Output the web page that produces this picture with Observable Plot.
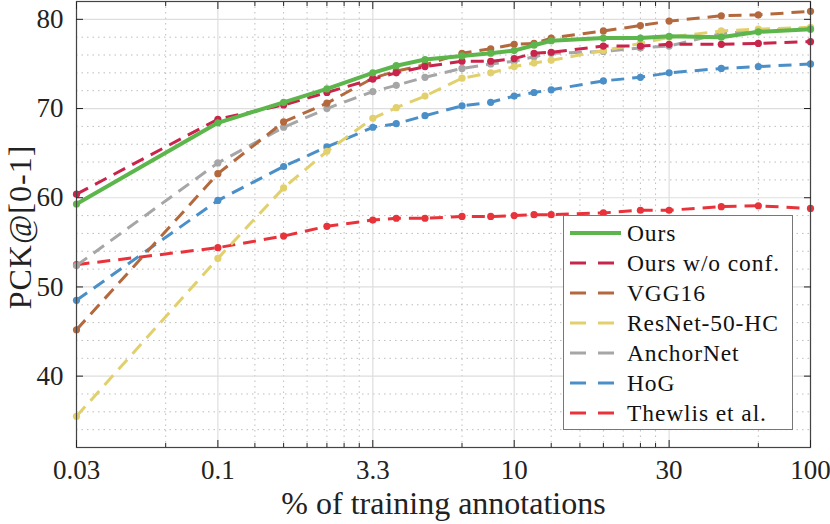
<!DOCTYPE html>
<html>
<head>
<meta charset="utf-8">
<script src="https://cdn.jsdelivr.net/npm/d3@7"></script>
<script src="https://cdn.jsdelivr.net/npm/@observablehq/plot@0.6"></script>
<style>
  html, body { margin: 0; padding: 0; background: #fff; }
  #wrap { position: relative; width: 830px; height: 524px; font-family: "Liberation Serif", serif; }
  #legend { position: absolute; left: 563px; top: 215px; width: 228px; height: 213px; background: #fff; border: 1px solid #777; box-sizing: content-box; }
  .row { position: absolute; left: 0; height: 30px; display: flex; align-items: center; font-size: 23.5px; letter-spacing: 0.9px; color: #111; white-space: nowrap; }
  .row svg { margin-left: 6px; margin-right: 6px; }
  #ylabel { position: absolute; left: 20px; top: 227px; transform: translate(-50%, -50%) rotate(-90deg); font-size: 32px; color: #222; white-space: nowrap; letter-spacing: 1px; }
</style>
</head>
<body>
<div id="wrap"><div id="ylabel"></div><div id="legend"></div></div>
<script>
// x positions (annotation fraction units of the log axis)
const annotX = [0.1, 0.3, 0.5, 0.7, 1, 1.2, 1.5, 2, 2.5, 3, 3.5, 4, 6, 8, 10, 15, 20, 30];
const xTickVals = [0.1, 0.3, 1, 3, 10, 30];
const xTickLabels = ["0.03", "0.1", "3.3", "10", "30", "100"];
const yTickVals = [40, 50, 60, 70, 80];
const xTitle = "% of training annotations";
const yTitle = "PCK@[0-1]";

const seriesNames = ["Ours", "Ours w/o conf.", "VGG16", "ResNet-50-HC", "AnchorNet", "HoG", "Thewlis et al."];
const ours       = [59.3, 68.4, 70.7, 72.2, 74.0, 74.8, 75.5, 75.9, 76.2, 76.5, 77.1, 77.6, 77.9, 77.9, 78.1, 78.0, 78.6, 78.9];
const oursNoConf = [60.4, 68.8, 70.4, 71.8, 73.3, 74.0, 74.7, 75.3, 75.3, 75.6, 76.2, 76.3, 77.0, 77.0, 77.2, 77.2, 77.3, 77.5];
const vgg16      = [45.2, 62.7, 68.5, 70.6, 73.4, 74.2, 74.9, 76.2, 76.7, 77.2, 77.3, 77.9, 78.7, 79.3, 79.8, 80.4, 80.5, 80.9];
const resnet50hc = [35.5, 53.2, 61.1, 65.2, 68.9, 70.1, 71.4, 73.4, 74.0, 74.7, 75.1, 75.4, 76.5, 77.3, 78.0, 78.7, 78.9, 79.1];
const anchorNet  = [52.4, 63.9, 67.9, 70.0, 71.9, 72.6, 73.5, 74.5, 75.0, 75.3, 75.8, 76.2, 76.4, 76.8, 77.0, 78.4, 78.7, 79.0];
const hog        = [48.5, 59.7, 63.5, 65.7, 67.9, 68.3, 69.2, 70.3, 70.7, 71.4, 71.8, 72.1, 73.1, 73.5, 74.0, 74.5, 74.7, 75.0];
const thewlis    = [52.5, 54.4, 55.7, 56.8, 57.5, 57.7, 57.7, 57.9, 57.9, 58.0, 58.1, 58.1, 58.3, 58.6, 58.6, 59.0, 59.1, 58.8];

const seriesValues = [ours, oursNoConf, vgg16, resnet50hc, anchorNet, hog, thewlis];
const colors = ["#5cb64c", "#c8244c", "#b3693d", "#e2d06c", "#a6a6a6", "#4a8fc8", "#e8333a"];

const FONT = "Liberation Serif";
const data = seriesNames.flatMap((name, si) => annotX.map((x, i) => ({series: name, x, y: seriesValues[si][i]})));

const allLogTicks = d3.scaleLog().domain([0.1, 30]).ticks();
const xMinor = allLogTicks.filter(t => !xTickVals.some(m => Math.abs(m - t) < 1e-9));
const yMinor = d3.range(34, 82, 2).filter(v => v % 10 !== 0);

const drawOrder = [6, 5, 4, 3, 2, 1, 0];
const seriesMarks = drawOrder.flatMap(si => {
  const d = data.filter(r => r.series === seriesNames[si]);
  const solid = si === 0;
  return [
    Plot.line(d, {x: "x", y: "y", stroke: colors[si], strokeWidth: solid ? 4 : 3,
      strokeDasharray: solid ? null : "13,8", strokeLinecap: "butt", strokeLinejoin: "round"}),
    Plot.dot(d, {x: "x", y: "y", r: 3.6, fill: colors[si], stroke: "none"})
  ];
});

const tickOpts = {tickFormat: () => "", stroke: "#222", label: null};
const chart = Plot.plot({
  width: 830, height: 524,
  marginLeft: 76, marginRight: 20, marginTop: 1, marginBottom: 77,
  x: {type: "log", domain: [0.1, 30], axis: null},
  y: {domain: [32, 82], axis: null},
  style: {background: "white", fontFamily: FONT, overflow: "visible"},
  marks: [
    Plot.ruleY(yMinor, {stroke: "#bdbdbd", strokeDasharray: "1.5,4"}),
    Plot.ruleX(xMinor, {stroke: "#bdbdbd", strokeDasharray: "1.5,4"}),
    Plot.ruleY(yTickVals, {stroke: "#dedede", strokeWidth: 1.2}),
    Plot.ruleX(xTickVals, {stroke: "#dedede", strokeWidth: 1.2}),
    ...seriesMarks,
    Plot.frame({stroke: "#444", strokeWidth: 1.2}),
    Plot.axisX(xTickVals, {anchor: "bottom", tickSize: 7, dy: -7, ...tickOpts}),
    Plot.axisX(xTickVals, {anchor: "top", tickSize: 7, dy: 7, ...tickOpts}),
    Plot.axisX(xMinor, {anchor: "bottom", tickSize: 4, dy: -4, ...tickOpts}),
    Plot.axisX(xMinor, {anchor: "top", tickSize: 4, dy: 4, ...tickOpts}),
    Plot.axisY(yTickVals, {anchor: "left", tickSize: 7, dx: 7, ...tickOpts}),
    Plot.axisY(yTickVals, {anchor: "right", tickSize: 7, dx: -7, ...tickOpts}),
    Plot.text(xTickVals, {x: d => d, frameAnchor: "bottom", dy: 31, text: (d, i) => xTickLabels[i], fontSize: 27, fill: "#222", fontFamily: FONT}),
    Plot.text(yTickVals, {y: d => d, frameAnchor: "left", dx: -13, textAnchor: "end", text: d => String(d), fontSize: 27, fill: "#222", fontFamily: FONT}),
    Plot.text([xTitle], {frameAnchor: "bottom", dy: 66, text: d => d, fontSize: 32, fill: "#222", fontFamily: FONT, letterSpacing: 0.6})
  ]
});
const wrap = document.getElementById("wrap");
wrap.insertBefore(chart, wrap.firstChild);
document.getElementById("ylabel").textContent = yTitle;

// Legend
const legend = document.getElementById("legend");
seriesNames.forEach((name, i) => {
  const row = document.createElement("div");
  row.className = "row";
  row.style.top = (2 + i * 30) + "px";
  const dash = i === 0 ? "" : ` stroke-dasharray="16,12"`;
  row.innerHTML = `<svg width="51" height="10"><line x1="0" y1="5" x2="51" y2="5" stroke="${colors[i]}" stroke-width="${i === 0 ? 4 : 3}"${dash}/></svg><span>${name}</span>`;
  legend.appendChild(row);
});
</script>
</body>
</html>
